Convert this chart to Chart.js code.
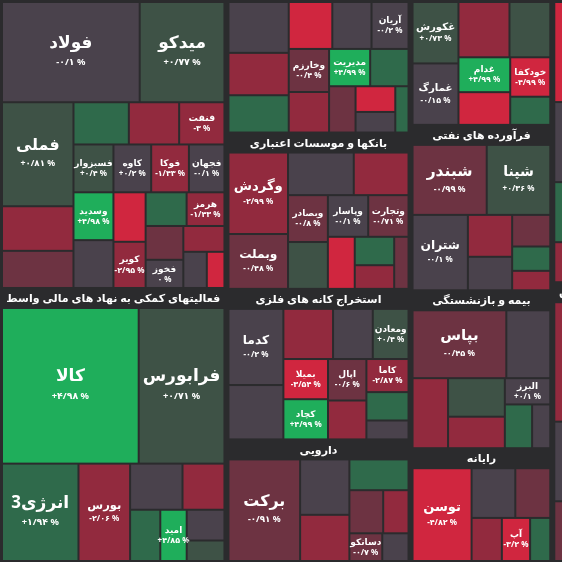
<!DOCTYPE html>
<html><head><meta charset="utf-8">
<script src="https://cdn.jsdelivr.net/npm/chart.js@4"></script>
<style>body{margin:0;background:#2b2b2d;overflow:hidden}#wrap{width:562px;height:562px}</style>
</head><body><div id="wrap"><canvas id="map"></canvas></div>
<script>
var sectorNames = ["فلزات اساسی", "فعالیتهای کمکی به نهاد های مالی واسط", "محصولات شیمیایی", "بانکها و موسسات اعتباری", "استخراج کانه های فلزی", "دارویی", "محصولات غذایی", "فرآورده های نفتی", "بیمه و بازنشستگی", "رایانه", "خودرو", "سیمان"];
var sectorWeights = [65, 58, 26, 27, 26, 21, 19, 22, 21, 15, 14, 13];
var sectorColumn = [0, 0, 1, 1, 1, 1, 2, 2, 2, 2, 3, 3];
var stockNames = ["فولاد","میدکو","فملی","فنفت","فسبزوار","وسدید","کاوه","فوکا","فجهان","کویر","هرمز","فخوز","","","","","","","","","","","",
  "مدیریت","آریان","وخارزم","","","","","","","","","","","",
  "کالا","فرابورس","انرژی3","بورس","امید","","","","","",
  "وگردش","وبملت","وبصادر","وپاسار","وتجارت","سامان","","","","","","",
  "کدما","ومعادن","بمیلا","کچاد","اپال","کاما","","","","","","",
  "برکت","دسانکو","","","","","","",
  "غکورش","غمارگ","غدام","خودکفا","","","","",
  "شبندر","شپنا","شتران","","","","","",
  "بپاس","البرز","","","","","","",
  "توسن","آپ","","","","",
  "","","","","","",""];
var stockSector = [0,0,0,0,0,0,0,0,0,0,0,0,0,0,0,0,0,0,0,0,0,0,0,
  2,2,2,2,2,2,2,2,2,2,2,2,2,2,
  1,1,1,1,1,1,1,1,1,1,
  3,3,3,3,3,3,3,3,3,3,3,3,
  4,4,4,4,4,4,4,4,4,4,4,4,
  5,5,5,5,5,5,5,5,
  6,6,6,6,6,6,6,6,
  7,7,7,7,7,7,7,7,
  8,8,8,8,8,8,8,8,
  9,9,9,9,9,9,
  10,10,10,10,11,11,11];
var stockWeights = [13,8,7,1.8,1.8,1.8,1.7,1.7,1.6,1.4,1.2,1,3,2.5,2.2,2,1.8,1.5,1.3,1.2,1,0.8,0.6,
  1.5,1.7,1.7,3,2.5,2.2,2,1.8,1.6,1.4,1.2,1,0.8,0.6,
  22,13.8,7.7,5.2,1.4,2.5,2,1.6,1.2,0.8,
  5.2,3.5,2,1.8,1.8,1,3,2.5,2,1.5,1.2,0.8,
  4.2,1.8,1.8,1.8,1.6,1.4,3,2.5,2,1.5,1.2,0.8,
  8,1,3,2.5,2,1.6,1.2,0.8,
  2.5,2.5,1.6,1.4,2.5,2,1.5,1,
  5.6,4.8,4.5,2,1.6,1.3,1,0.8,
  6.4,1.2,3,2.5,2.2,1.8,1.2,0.8,
  6.3,1.4,2.5,2,1.5,1,
  5,4,3,2,6,4,3];
var stockChanges = [-0.1,0.77,0.81,-3,0.4,4.98,0.2,-1.43,-0.1,-2.95,-1.43,0,-1.2,-0.5,2.1,-2.4,0.3,-3.5,1.5,-0.8,-2,0.1,-4,
  4.99,-0.2,-0.4,-0.3,-2.5,1.2,-3.8,0.1,-1.6,2.4,-0.5,-4.2,0.2,1.8,
  4.98,0.71,1.94,-2.06,4.85,0.2,-1.5,2.5,-0.3,0.4,
  -2.99,-0.48,-0.8,-0.1,-0.71,-2.1,0.2,-1.8,0.5,-3.1,1.2,-0.4,
  -0.2,0.4,-3.54,4.99,-0.6,-2.87,-0.3,-1.4,0.3,-2.5,1.5,0.1,
  -0.91,-0.7,0.3,-1.2,2.2,-0.5,-3,0.2,
  0.73,-0.15,4.99,-4.99,-1.5,0.4,-3.2,1.1,
  -0.99,0.36,-0.1,-1.6,0.2,-0.4,2.1,-2.8,
  -0.45,0.1,-0.2,-1.3,0.5,-2.4,1.4,-0.3,
  -4.82,-3.2,0.3,-0.5,-2.2,1.6,
  -3.5,0.2,2.5,-1.2,-2.8,0.1,-0.6];

function tileColor(c) {
  if (c >= 3) return "#1fae5b";
  if (c >= 1) return "#2f6a4b";
  if (c > 0.3) return "#3e5246";
  if (c >= -0.3) return "#4a424c";
  if (c >= -1) return "#6d3342";
  if (c >= -3) return "#922a3e";
  return "#d0263f";
}

function faNum(v) {
  var s = Math.abs(v).toString().replace(".", "/").replace(/\d/g, function (d) { return "۰۱۲۳۴۵۶۷۸۹"[d]; });
  return (v > 0 ? "+" : v < 0 ? "-" : "") + s + " %";
}

function worst(row, w) {
  var s = 0, mx = 0, mn = Infinity;
  row.forEach(function (r) { s += r.a; mx = Math.max(mx, r.a); mn = Math.min(mn, r.a); });
  return Math.max(w * w * mx / (s * s), s * s / (w * w * mn));
}

function squarify(items, x, y, w, h) {
  var total = items.reduce(function (s, i) { return s + i.v; }, 0);
  var list = items.slice().sort(function (a, b) { return b.v - a.v; }).map(function (i) { return { item: i, a: i.v * w * h / total }; });
  var out = [];
  while (list.length) {
    var side = Math.min(w, h), row = [list.shift()];
    while (list.length && worst(row.concat([list[0]]), side) <= worst(row, side)) row.push(list.shift());
    var s = row.reduce(function (t, r) { return t + r.a; }, 0);
    if (w >= h) {
      var rw = s / h, cy = y;
      row.forEach(function (r) { var rh = r.a / rw; out.push({ item: r.item, x: x, y: cy, w: rw, h: rh }); cy += rh; });
      x += rw; w -= rw;
    } else {
      var rh2 = s / w, cx = x;
      row.forEach(function (r) { var rw2 = r.a / rh2; out.push({ item: r.item, x: cx, y: y, w: rw2, h: rh2 }); cx += rw2; });
      y += rh2; h -= rh2;
    }
  }
  return out;
}

// columns of sectors, each column stacked top to bottom
function sectorLayout(x, y, w, h) {
  var cols = [], total = 0;
  sectorColumn.forEach(function (c, i) { (cols[c] = cols[c] || []).push(i); total += sectorWeights[i]; });
  var out = [], cx = x;
  cols.forEach(function (list) {
    var sum = list.reduce(function (s, i) { return s + sectorWeights[i]; }, 0);
    var cw = w * sum / total, cy = y;
    list.forEach(function (i) {
      var sh = h * sectorWeights[i] / sum;
      out.push({ i: i, x: cx, y: cy, w: cw, h: sh });
      cy += sh;
    });
    cx += cw;
  });
  return out;
}

var treemapPlugin = {
  id: "treemap",
  afterDatasetsDraw: function (chart) {
    var ctx = chart.ctx, xs = chart.scales.x, ys = chart.scales.y;
    // the map runs a little past the top and right edge of the window
    var X0 = xs.getPixelForValue(0), X1 = xs.getPixelForValue(100), Y0 = ys.getPixelForValue(100), Y1 = ys.getPixelForValue(0);
    ctx.save();
    ctx.fillStyle = "#2b2b2d";
    ctx.fillRect(0, 0, chart.width, chart.height);
    sectorLayout(X0, Y0 - 17, X1 - X0 + 40, Y1 - Y0 + 17).forEach(function (sec) {
      var idx = sec.i, head = 18;
      var sx = sec.x + 2, sy = sec.y + 1, sw = sec.w - 4, sh = sec.h - 2;
      ctx.fillStyle = "#fff";
      ctx.font = "bold 11px 'Noto Sans', 'DejaVu Sans'";
      ctx.textAlign = "center"; ctx.textBaseline = "middle";
      ctx.fillText(sectorNames[idx], sx + sw / 2, sy + head / 2);
      var items = [];
      stockSector.forEach(function (s, k) { if (s === idx) items.push({ v: stockWeights[k], k: k }); });
      squarify(items, sx, sy + head, sw, sh - head).forEach(function (t) {
        var k = t.item.k;
        ctx.fillStyle = tileColor(stockChanges[k]);
        ctx.fillRect(t.x + 1, t.y + 1, t.w - 2, t.h - 2);
        if (!stockNames[k] || t.w < 26 || t.h < 24) return;
        var fs = Math.max(9, Math.min(17, Math.min(t.w, t.h) / 4.5));
        ctx.fillStyle = "#fff";
        ctx.font = "bold " + fs + "px 'Noto Sans', 'DejaVu Sans'";
        ctx.fillText(stockNames[k], t.x + t.w / 2, t.y + t.h / 2 - fs * 0.55);
        ctx.font = "bold " + Math.max(8, fs * 0.55) + "px 'Noto Sans', 'DejaVu Sans'";
        ctx.fillText(faNum(stockChanges[k]), t.x + t.w / 2, t.y + t.h / 2 + fs * 0.6);
      });
    });
    ctx.restore();
  }
};

new Chart(document.getElementById("map"), {
  type: "scatter",
  data: { datasets: [{ data: [] }] },
  options: {
    responsive: true,
    maintainAspectRatio: false,
    animation: false,
    layout: { padding: 0 },
    plugins: { legend: { display: false }, tooltip: { enabled: false } },
    scales: {
      x: { display: false, min: 0, max: 100 },
      y: { display: false, min: 0, max: 100 }
    }
  },
  plugins: [treemapPlugin]
});
</script>
</body></html>
